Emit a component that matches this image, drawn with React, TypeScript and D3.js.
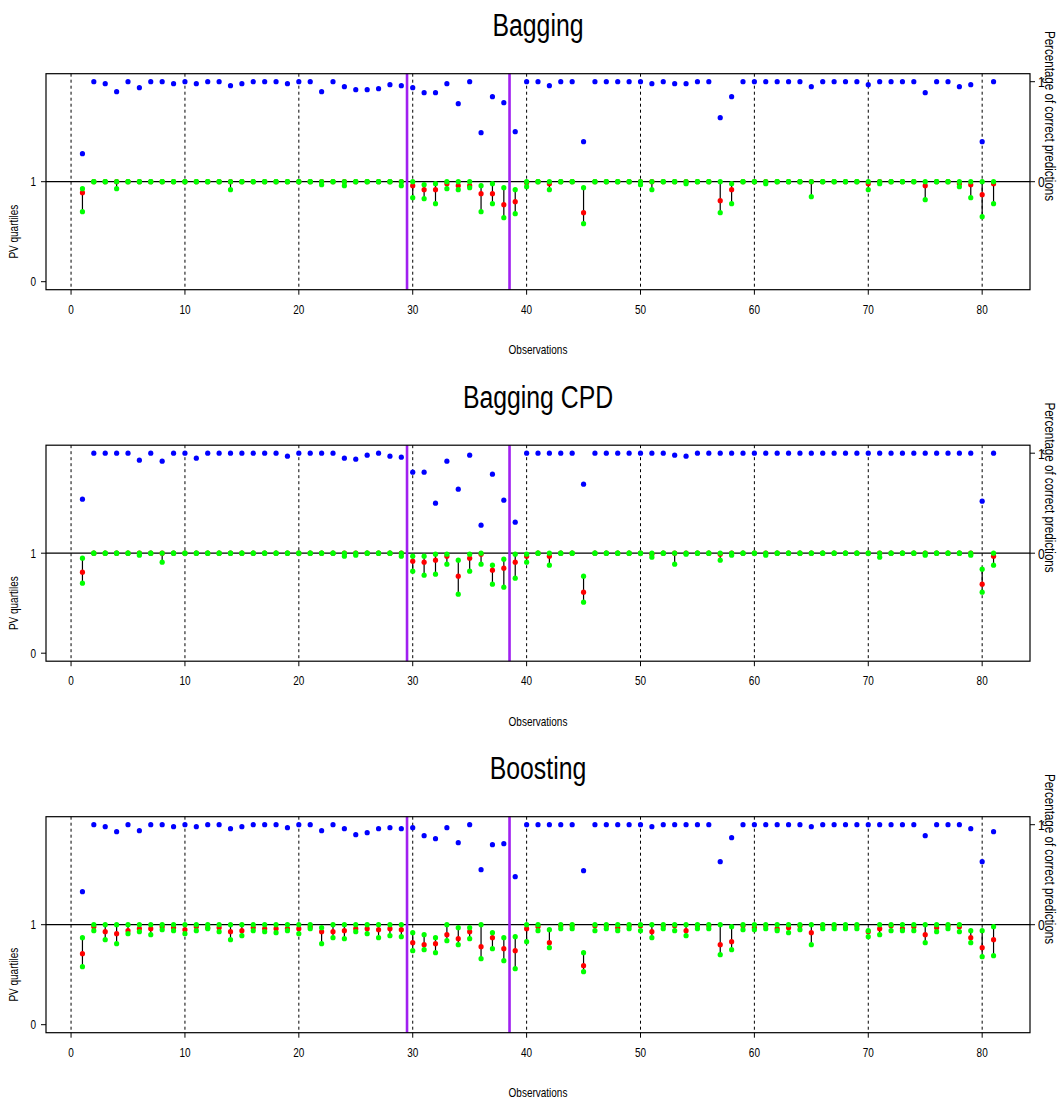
import React from "react";
import * as d3 from "d3";

// Observation indices 1..81
const observations: number[] = d3.range(1, 82);

const panelTitles: string[] = ["Bagging", "Bagging CPD", "Boosting"];
const xTicks: number[] = [0, 10, 20, 30, 40, 50, 60, 70, 80];
const gridLines: number[] = [0, 10, 20, 30, 40, 50, 60, 70, 80];
const groupBreaks: number[] = [29.5, 38.5];

// ---- Bagging ----
const baggingAcc: number[] = [
  0.28, 1, 0.98, 0.9, 1, 0.94, 1, 1, 0.98, 1,
  0.98, 1, 1, 0.96, 0.98, 1, 1, 1, 0.98, 1,
  1, 0.9, 1, 0.95, 0.92, 0.92, 0.93, 0.97, 0.96, 0.94,
  0.89, 0.89, 0.98, 0.78, 1, 0.49, 0.85, 0.79, 0.5, 1,
  1, 0.96, 1, 1, 0.4, 1, 1, 1, 1, 1,
  0.98, 1, 0.98, 0.98, 1, 1, 0.64, 0.85, 1, 1,
  1, 1, 1, 1, 0.95, 1, 1, 1, 1, 0.97,
  1, 1, 1, 1, 0.89, 1, 1, 0.95, 0.97, 0.4,
  1,
];
const baggingQ3: number[] = [
  0.93, 1, 1, 1, 1, 1, 1, 1, 1, 1,
  1, 1, 1, 1, 1, 1, 1, 1, 1, 1,
  1, 1, 1, 1, 1, 1, 1, 1, 1, 1,
  0.97, 0.98, 1, 1, 1, 0.96, 0.98, 0.94, 0.92, 1,
  1, 1, 1, 1, 0.94, 1, 1, 1, 1, 1,
  1, 1, 1, 1, 1, 1, 1, 0.98, 1, 1,
  1, 1, 1, 1, 1, 1, 1, 1, 1, 1,
  1, 1, 1, 1, 1, 1, 1, 1, 1, 1,
  1,
];
const baggingMed: number[] = [
  0.89, 1, 1, 1, 1, 1, 1, 1, 1, 1,
  1, 1, 1, 1, 1, 1, 1, 1, 1, 1,
  1, 1, 1, 1, 1, 1, 1, 1, 1, 0.96,
  0.92, 0.92, 0.98, 0.96, 0.96, 0.88, 0.88, 0.77, 0.8, 0.99,
  1, 0.98, 1, 1, 0.69, 1, 1, 1, 1, 1,
  1, 1, 1, 1, 1, 1, 0.81, 0.92, 1, 1,
  1, 1, 1, 1, 1, 1, 1, 1, 1, 0.98,
  1, 1, 1, 1, 0.96, 1, 1, 0.98, 0.97, 0.87,
  0.98,
];
const baggingQ1: number[] = [
  0.7, 1, 1, 0.93, 1, 1, 1, 1, 1, 1,
  1, 1, 1, 0.92, 1, 1, 1, 1, 1, 1,
  1, 0.97, 1, 0.96, 1, 1, 1, 1, 0.96, 0.84,
  0.83, 0.78, 0.93, 0.92, 0.94, 0.7, 0.78, 0.64, 0.68, 0.95,
  1, 0.92, 1, 1, 0.58, 1, 1, 1, 1, 0.97,
  0.92, 1, 1, 0.98, 1, 1, 0.69, 0.78, 1, 1,
  0.98, 1, 1, 1, 0.85, 1, 1, 1, 1, 0.92,
  0.98, 1, 1, 1, 0.82, 1, 1, 0.95, 0.84, 0.65,
  0.78,
];

// ---- Bagging CPD ----
const cpdAcc: number[] = [
  0.54, 1, 1, 1, 1, 0.93, 1, 0.92, 1, 1,
  0.95, 1, 1, 1, 1, 1, 1, 1, 0.97, 1,
  1, 1, 1, 0.95, 0.94, 0.98, 1, 0.97, 0.96, 0.81,
  0.81, 0.5, 0.92, 0.64, 0.98, 0.28, 0.79, 0.53, 0.31, 1,
  1, 1, 1, 1, 0.69, 1, 1, 1, 1, 1,
  1, 1, 0.98, 0.97, 1, 1, 1, 1, 1, 1,
  1, 1, 1, 1, 1, 1, 1, 1, 1, 1,
  1, 1, 1, 1, 1, 1, 1, 1, 1, 0.52,
  1,
];
const cpdQ3: number[] = [
  0.95, 1, 1, 1, 1, 1, 1, 1, 1, 1,
  1, 1, 1, 1, 1, 1, 1, 1, 1, 1,
  1, 1, 1, 1, 1, 1, 1, 1, 1, 0.97,
  0.97, 0.99, 0.99, 0.93, 0.99, 1, 0.88, 0.94, 0.99, 0.99,
  1, 1, 1, 1, 0.77, 1, 1, 1, 1, 1,
  1, 1, 1, 1, 1, 1, 1, 1, 1, 1,
  1, 1, 1, 1, 1, 1, 1, 1, 1, 1,
  1, 1, 1, 1, 1, 1, 1, 1, 1, 0.84,
  1,
];
const cpdMed: number[] = [
  0.81, 1, 1, 1, 1, 1, 1, 1, 1, 1,
  1, 1, 1, 1, 1, 1, 1, 1, 1, 1,
  1, 1, 1, 1, 1, 1, 1, 1, 1, 0.92,
  0.91, 0.93, 0.97, 0.77, 0.95, 0.99, 0.83, 0.85, 0.91, 0.97,
  1, 0.97, 1, 1, 0.61, 1, 1, 1, 1, 1,
  0.99, 1, 1, 1, 1, 1, 0.99, 1, 1, 1,
  1, 1, 1, 1, 1, 1, 1, 1, 1, 1,
  1, 1, 1, 1, 1, 1, 1, 1, 1, 0.69,
  0.97,
];
const cpdQ1: number[] = [
  0.7, 1, 1, 1, 1, 0.98, 1, 0.91, 1, 1,
  1, 1, 1, 1, 1, 1, 1, 1, 1, 1,
  1, 1, 1, 0.97, 0.98, 1, 1, 1, 0.97, 0.82,
  0.78, 0.79, 0.89, 0.59, 0.82, 0.89, 0.69, 0.66, 0.75, 0.91,
  1, 0.88, 1, 1, 0.51, 1, 1, 1, 1, 1,
  0.96, 1, 0.89, 0.99, 1, 1, 0.93, 0.98, 1, 1,
  0.98, 1, 1, 1, 1, 1, 1, 1, 1, 1,
  0.96, 1, 1, 1, 0.98, 1, 1, 1, 0.98, 0.61,
  0.88,
];

// ---- Boosting ----
const boostAcc: number[] = [
  0.33, 1, 0.98, 0.93, 1, 0.94, 1, 1, 0.98, 1,
  0.98, 1, 1, 0.96, 0.98, 1, 1, 1, 0.97, 1,
  1, 0.94, 1, 0.96, 0.9, 0.92, 0.96, 0.97, 0.96, 0.97,
  0.89, 0.86, 0.97, 0.82, 1, 0.55, 0.8, 0.81, 0.48, 1,
  1, 1, 1, 1, 0.54, 1, 1, 1, 1, 1,
  0.98, 1, 1, 1, 1, 1, 0.63, 0.87, 1, 1,
  1, 1, 1, 1, 0.98, 1, 1, 1, 1, 1,
  1, 1, 1, 1, 0.89, 1, 1, 1, 0.96, 0.63,
  0.93,
];
const boostQ3: number[] = [
  0.87, 1, 1, 1, 1, 1, 1, 1, 1, 1,
  1, 1, 1, 1, 1, 1, 1, 1, 1, 1,
  1, 0.97, 1, 1, 1, 1, 1, 1, 1, 0.92,
  0.9, 0.87, 1, 0.97, 0.97, 1, 0.92, 0.87, 0.88, 1,
  1, 0.95, 1, 1, 0.72, 1, 1, 1, 1, 1,
  1, 1, 1, 1, 1, 1, 1, 0.98, 1, 1,
  1, 1, 1, 1, 1, 1, 1, 1, 1, 0.94,
  1, 1, 1, 1, 1, 1, 1, 1, 0.94, 0.94,
  0.98,
];
const boostMed: number[] = [
  0.71, 0.98, 0.93, 0.91, 0.94, 0.96, 0.96, 0.98, 0.97, 0.95,
  0.98, 0.97, 0.97, 0.93, 0.94, 0.97, 0.96, 0.96, 0.96, 0.96,
  0.98, 0.93, 0.93, 0.94, 0.96, 0.96, 0.95, 0.96, 0.95, 0.82,
  0.8, 0.81, 0.9, 0.86, 0.93, 0.78, 0.87, 0.76, 0.74, 0.96,
  0.98, 0.82, 0.99, 0.99, 0.59, 0.99, 0.99, 0.97, 0.99, 0.99,
  0.93, 0.99, 0.99, 0.94, 0.99, 0.99, 0.8, 0.83, 0.99, 0.97,
  0.99, 0.96, 0.97, 0.99, 0.92, 0.99, 0.99, 0.97, 0.99, 0.93,
  0.96, 0.99, 0.96, 0.98, 0.9, 0.97, 0.99, 0.98, 0.87, 0.77,
  0.85,
];
const boostQ1: number[] = [
  0.58, 0.94, 0.85, 0.81, 0.91, 0.93, 0.9, 0.95, 0.94, 0.91,
  0.94, 0.96, 0.93, 0.85, 0.89, 0.94, 0.93, 0.92, 0.94, 0.91,
  0.96, 0.81, 0.87, 0.86, 0.93, 0.91, 0.87, 0.89, 0.88, 0.74,
  0.75, 0.72, 0.84, 0.8, 0.86, 0.66, 0.76, 0.64, 0.56, 0.83,
  0.94, 0.77, 0.96, 0.96, 0.53, 0.94, 0.96, 0.94, 0.96, 0.94,
  0.87, 0.96, 0.94, 0.89, 0.96, 0.96, 0.7, 0.75, 0.95, 0.95,
  0.96, 0.94, 0.92, 0.95, 0.8, 0.96, 0.96, 0.96, 0.96, 0.88,
  0.9, 0.94, 0.94, 0.94, 0.82, 0.93, 0.96, 0.93, 0.82, 0.68,
  0.69,
];

const accSeries: number[][] = [baggingAcc, cpdAcc, boostAcc];
const q3Series: number[][] = [baggingQ3, cpdQ3, boostQ3];
const medSeries: number[][] = [baggingMed, cpdMed, boostMed];
const q1Series: number[][] = [baggingQ1, cpdQ1, boostQ1];

const W = 1060;
const H = 1099;
const LEFT = 46;
const RIGHT = 1030;
const PANEL_STEP = 371.5;
const BOX_TOP = 73.7;
const BOX_BOTTOM = 289.7;
const FONT = "'Liberation Sans', Arial, Helvetica, sans-serif";
const SQUEEZE = 0.8; // condensed glyphs
const R = 2.6;

const x = d3.scaleLinear().domain([-2.2, 84.2]).range([LEFT, RIGHT]);

type LabelProps = {
  x: number;
  y: number;
  size: number;
  anchor?: string;
  rotate?: number;
  children: React.ReactNode;
};

// Text with narrowed glyphs (horizontal squeeze along the text direction)
function Label({ x: lx, y: ly, size, anchor = "middle", rotate = 0, children }: LabelProps) {
  return (
    <text
      transform={`translate(${lx},${ly}) rotate(${rotate}) scale(${SQUEEZE},1)`}
      textAnchor={anchor}
      fontFamily={FONT}
      fontSize={size}
      fill="#000"
    >
      {children}
    </text>
  );
}

function Panel({ idx }: { idx: number }) {
  const off = idx * PANEL_STEP;
  // PV quartiles occupy [0,1]; correct-prediction share is stacked on [1,2]
  const y = d3.scaleLinear().domain([-0.08, 2.08]).range([BOX_BOTTOM + off, BOX_TOP + off]);
  const acc = accSeries[idx];
  const q3 = q3Series[idx];
  const med = medSeries[idx];
  const q1 = q1Series[idx];
  const top = y(2.08);
  const bottom = y(-0.08);
  return (
    <g>
      <Label x={(LEFT + RIGHT) / 2} y={off + 36} size={31}>
        {panelTitles[idx]}
      </Label>
      {gridLines.map((g) => (
        <line key={"g" + g} x1={x(g)} x2={x(g)} y1={top} y2={bottom} stroke="#000" strokeWidth={1} strokeDasharray="3,3" />
      ))}
      <line x1={LEFT} x2={RIGHT} y1={y(1)} y2={y(1)} stroke="#000" strokeWidth={1.2} />
      {groupBreaks.map((b) => (
        <line key={"b" + b} x1={x(b)} x2={x(b)} y1={top} y2={bottom} stroke="#A020F0" strokeWidth={2.6} />
      ))}
      {observations.map((o, i) => (
        <line key={"s" + o} x1={x(o)} x2={x(o)} y1={y(q1[i])} y2={y(q3[i])} stroke="#000" strokeWidth={1.2} />
      ))}
      {observations.map((o, i) => (
        <circle key={"m" + o} cx={x(o)} cy={y(med[i])} r={R} fill="#FF0000" />
      ))}
      {observations.map((o, i) => (
        <g key={"q" + o}>
          <circle cx={x(o)} cy={y(q3[i])} r={R} fill="#00FF00" />
          <circle cx={x(o)} cy={y(q1[i])} r={R} fill="#00FF00" />
        </g>
      ))}
      {observations.map((o, i) => (
        <circle key={"a" + o} cx={x(o)} cy={y(1 + acc[i])} r={R} fill="#0000FF" />
      ))}
      <rect x={LEFT} y={top} width={RIGHT - LEFT} height={bottom - top} fill="none" stroke="#000" strokeWidth={1.2} />
      {/* bottom axis */}
      {xTicks.map((t) => (
        <g key={"t" + t}>
          <line x1={x(t)} x2={x(t)} y1={bottom} y2={bottom + 5} stroke="#000" />
          <Label x={x(t)} y={bottom + 24} size={12.5}>
            {t}
          </Label>
        </g>
      ))}
      <Label x={(LEFT + RIGHT) / 2} y={off + 354} size={12.5}>
        Observations
      </Label>
      {/* left axis: PV quartiles */}
      {[0, 1].map((v) => (
        <g key={"l" + v}>
          <line x1={LEFT - 5} x2={LEFT} y1={y(v)} y2={y(v)} stroke="#000" />
          <Label x={LEFT - 10} y={y(v) + 4.5} size={12.5} anchor="end">
            {v}
          </Label>
        </g>
      ))}
      <Label x={18} y={y(0.5)} size={12.5} rotate={-90}>
        PV quartiles
      </Label>
      {/* right axis: share of correct predictions */}
      {[0, 1].map((v) => (
        <g key={"r" + v}>
          <line x1={RIGHT} x2={RIGHT + 5} y1={y(1 + v)} y2={y(1 + v)} stroke="#000" />
          <Label x={RIGHT + 8} y={y(1 + v) + 5.5} size={15} anchor="start">
            {v}
          </Label>
        </g>
      ))}
      <Label x={1045} y={off + 116} size={14.5} rotate={90}>
        Percentage of correct predictions
      </Label>
    </g>
  );
}

export default function App() {
  return (
    <svg
      width={W}
      height={H}
      viewBox={`0 0 ${W} ${H}`}
      style={{ position: "absolute", left: 0, top: 0, background: "#fff" }}
    >
      <rect x={0} y={0} width={W} height={H} fill="#fff" />
      {[0, 1, 2].map((i) => (
        <Panel key={i} idx={i} />
      ))}
    </svg>
  );
}
